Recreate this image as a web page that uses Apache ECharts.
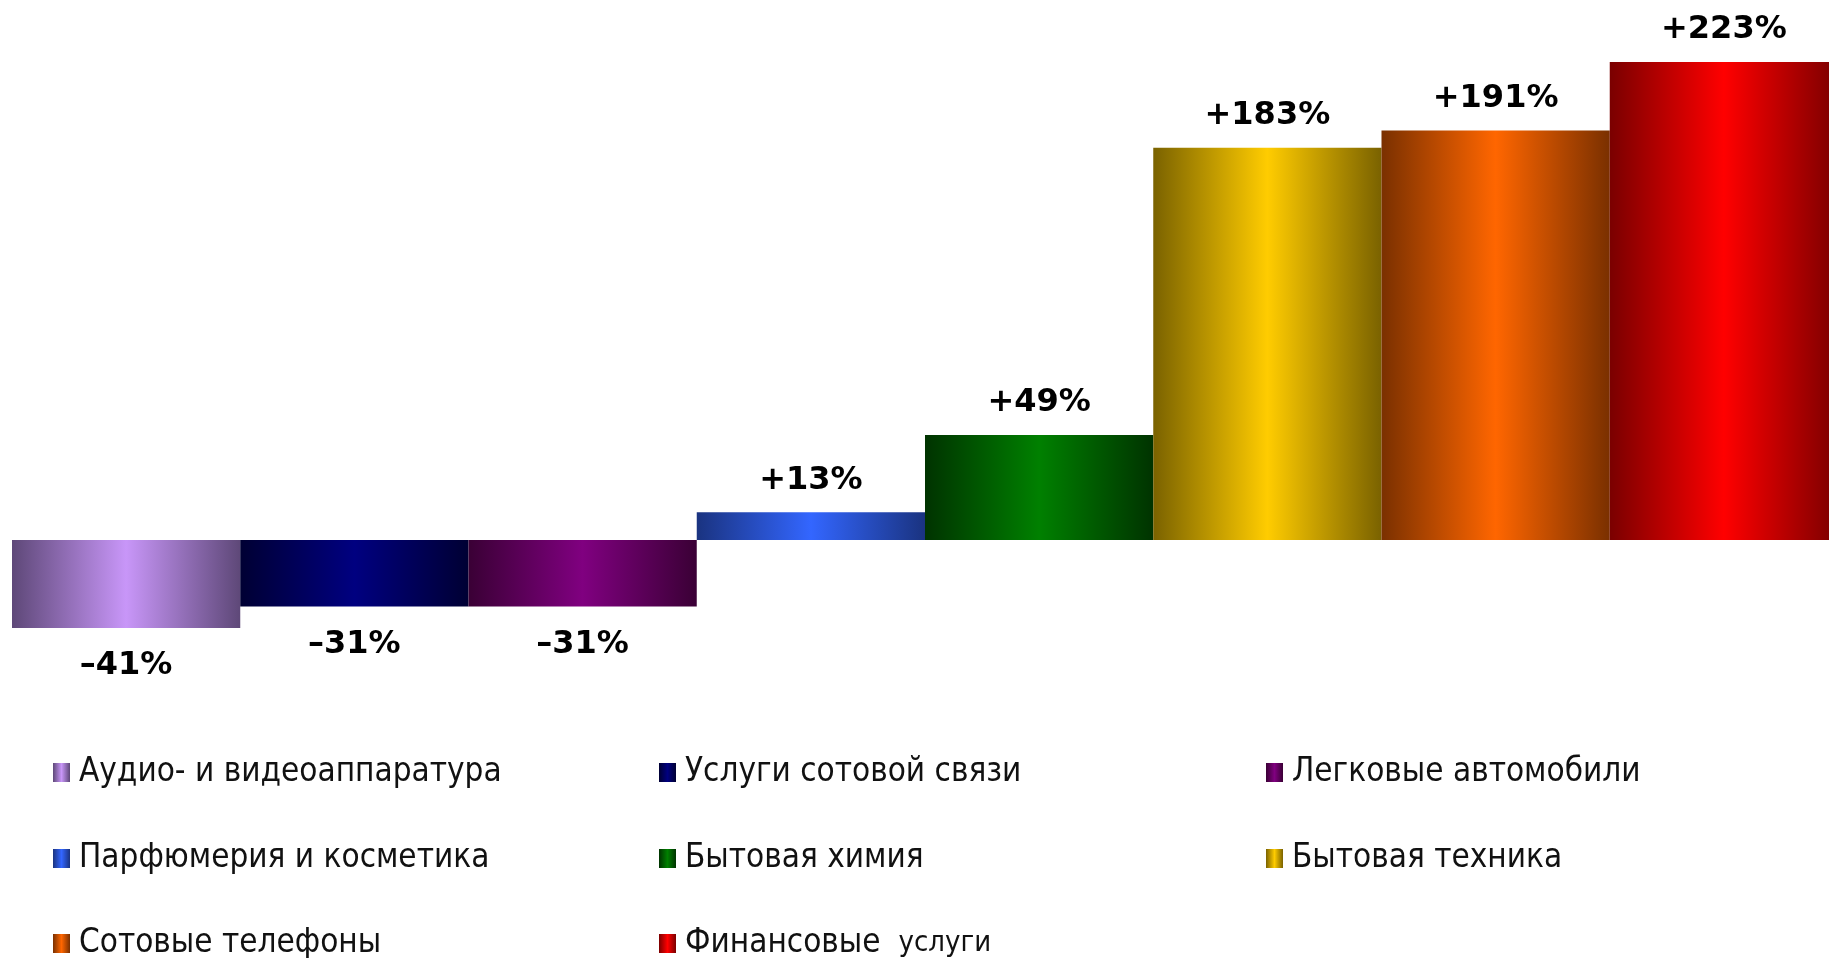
<!DOCTYPE html>
<html>
<head>
<meta charset="utf-8">
<script src="https://cdn.jsdelivr.net/npm/echarts@6/dist/echarts.min.js"></script>
<style>
  html, body { margin: 0; padding: 0; background: #fff; }
  #myChart { width: 1829px; height: 958px; }
</style>
</head>
<body>
<div id="myChart"></div>
<script>
// данные
var categories = [
  "Аудио- и видеоаппаратура",
  "Услуги сотовой связи",
  "Легковые автомобили",
  "Парфюмерия и косметика",
  "Бытовая химия",
  "Бытовая техника",
  "Сотовые телефоны",
  "Финансовые  услуги"
];
var values = [-41, -31, -31, 13, 49, 183, 191, 223];
// цвет края / середины столбца
var edgeColors = ["#5e4878", "#000033", "#3a0035", "#1a3380", "#003300", "#7a6200", "#7a3000", "#7a0000"];
var midColors = ["#c896f8", "#000080", "#800080", "#3366ff", "#008000", "#ffcc00", "#ff6600", "#ff0000"];

var colX = [48, 654, 1261];
var rowY = [751, 837, 922];

var myChart = echarts.init(document.getElementById("myChart"));

function grad(i) {
  return new echarts.graphic.LinearGradient(0, 0, 1, 0, [
    { offset: 0, color: edgeColors[i] },
    { offset: 0.5, color: midColors[i] },
    { offset: 1, color: edgeColors[i] }
  ]);
}

var series = categories.map(function (name, i) {
  var data = values.map(function (v, j) {
    if (j !== i) return "-";
    return {
      value: v,
      label: { position: v >= 0 ? "top" : "bottom", distance: v >= 0 ? 16 : 22 }
    };
  });
  return {
    name: name,
    type: "bar",
    stack: "all",
    barCategoryGap: "0%",
    data: data,
    itemStyle: { color: grad(i) },
    label: {
      show: true,
      fontFamily: "DejaVu Sans",
      fontWeight: "bold",
      fontSize: 32,
      color: "#000",
      formatter: function (p) {
        var v = p.value;
        return (v >= 0 ? "+" : "\u2013") + Math.abs(v) + "%";
      }
    }
  };
});

var legendFont = "Liberation Sans Narrow, DejaVu Sans Condensed, sans-serif";
var legends = categories.map(function (name, i) {
  return {
    data: [name],
    left: colX[i % 3],
    top: rowY[Math.floor(i / 3)],
    itemWidth: 17,
    itemHeight: 19,
    icon: "rect",
    formatter: function (n) {
      // вторая часть после двойного пробела — мельче
      var parts = n.split("  ");
      if (parts.length < 2) return "{a|" + n + "}";
      return "{a|" + parts[0] + "}{b|" + parts[1] + "}";
    },
    textStyle: {
      padding: [0, 0, 0, 4],
      color: "#111",
      rich: {
        a: { fontFamily: legendFont, fontSize: 33, color: "#111" },
        b: { fontFamily: legendFont, fontSize: 29, color: "#111", padding: [0, 0, 0, 18] }
      }
    }
  };
});

myChart.setOption({
  animation: false,
  legend: legends,
  grid: { left: 12, width: 1826, top: 62, height: 566, outerBoundsMode: "none", containLabel: false },
  xAxis: { type: "category", data: categories, show: false },
  yAxis: { type: "value", min: -41, max: 223, show: false, splitLine: { show: false } },
  series: series
});
</script>
</body>
</html>
